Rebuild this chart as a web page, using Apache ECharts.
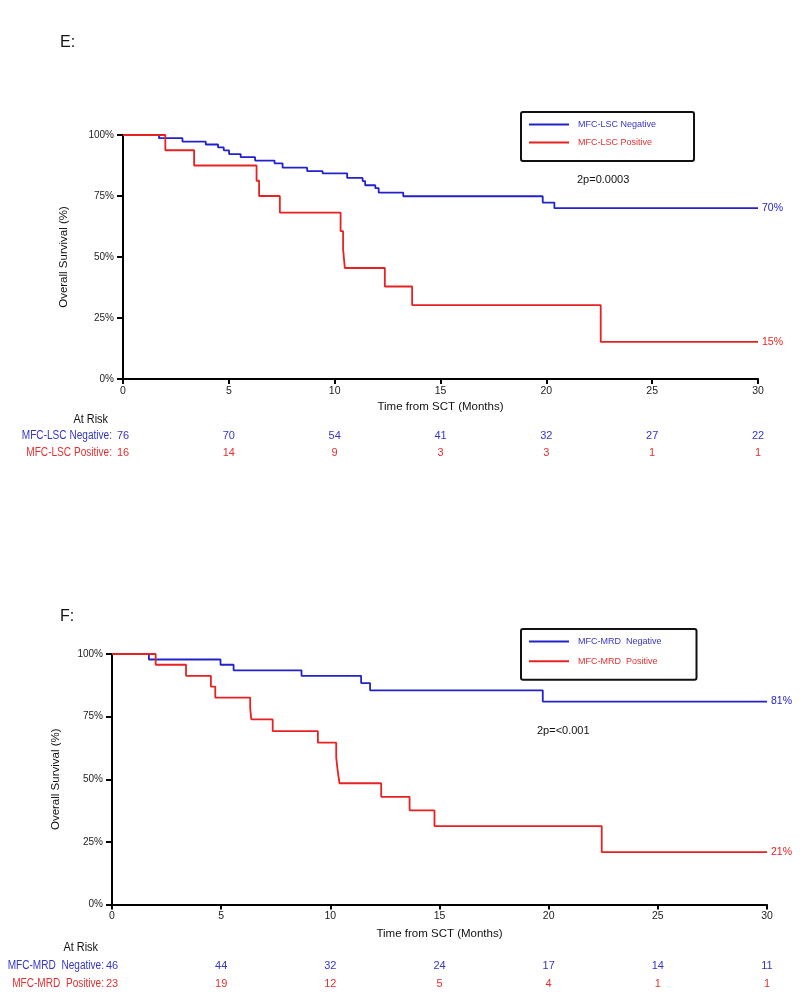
<!DOCTYPE html>
<html><head><meta charset="utf-8">
<script src="https://cdn.jsdelivr.net/npm/echarts@6/dist/echarts.min.js"></script>
<style>html,body{margin:0;padding:0;background:#fff}#c{width:800px;height:998px}</style>
</head><body><div id="c"></div>
<script>
// ---- Data ----
const xTicks = [0, 5, 10, 15, 20, 25, 30];

// Panel E: MFC-LSC
const lscNegTime = [0, 1.70, 2.81, 3.91, 4.49, 4.76, 5.01, 5.56, 6.24, 7.16, 7.54, 8.70, 9.43, 10.59, 11.32, 11.44, 11.92, 12.08, 13.24, 19.83, 20.38, 30];
const lscNegSurv = [100, 98.7, 97.3, 96.1, 94.9, 93.7, 92.2, 90.9, 89.5, 88.4, 86.6, 85.2, 84.3, 82.4, 81.1, 79.4, 78.2, 76.4, 74.9, 72.3, 70.0, 70.0];
const lscPosTime = [0, 2.00, 3.36, 6.31, 6.43, 7.41, 10.28, 10.40, 10.48, 12.37, 13.66, 22.57, 30];
const lscPosSurv = [100, 93.75, 87.5, 81.25, 75.0, 68.2, 60.6, 53.0, 45.5, 37.9, 30.3, 15.2, 15.2];
const lscNegRisk = [76, 70, 54, 41, 32, 27, 22];
const lscPosRisk = [16, 14, 9, 3, 3, 1, 1];

// Panel F: MFC-MRD
const mrdNegTime = [0, 1.69, 4.97, 5.57, 8.68, 11.41, 11.82, 19.73, 30];
const mrdNegSurv = [100, 97.8, 95.7, 93.5, 91.3, 88.4, 85.5, 81.0, 81.0];
const mrdPosTime = [0, 2.00, 3.39, 4.53, 4.73, 6.33, 6.38, 7.36, 9.43, 10.27, 10.33, 10.42, 12.33, 13.63, 14.77, 22.43, 30];
const mrdPosSurv = [100, 95.7, 91.3, 87.0, 82.6, 78.3, 73.9, 69.2, 64.6, 58.7, 53.8, 48.4, 43.0, 37.6, 31.3, 20.9, 20.9];
const mrdNegRisk = [46, 44, 32, 24, 17, 14, 11];
const mrdPosRisk = [23, 19, 12, 5, 4, 1, 1];

const lscNames = ['MFC-LSC Negative', 'MFC-LSC Positive'];
const mrdNames = ['MFC-MRD  Negative', 'MFC-MRD  Positive'];
const lscRowLabels = ['MFC-LSC Negative:', 'MFC-LSC Positive:'];
const mrdRowLabels = ['MFC-MRD  Negative:', 'MFC-MRD  Positive:'];
const pLSC = '2p=0.0003';
const pMRD = '2p=<0.001';

// ---- Styling ----
const BLUE = '#2222cc';
const RED = '#e62222';
const TBLUE = '#3535c8';
const TRED = '#e43030';
const SANS = "'Liberation Sans',Arial,sans-serif";

const zip = (t, s) => t.map((v, i) => [v, s[i]]);

function mainX(gi, nameGap, margin) {
  return {
    gridIndex: gi, type: 'value', min: 0, max: 30, interval: 5,
    name: 'Time from SCT (Months)', nameLocation: 'middle', nameGap: nameGap,
    nameTextStyle: { fontFamily: SANS, fontSize: 11.5, color: '#111' },
    axisLine: { show: true, onZero: false, lineStyle: { color: '#000', width: 2 } },
    axisTick: { show: true, length: 5, lineStyle: { color: '#000', width: 2 } },
    axisLabel: { margin: margin, fontFamily: SANS, fontSize: 10.5, color: '#222',
      formatter: v => String(xTicks[xTicks.indexOf(v)]) },
    splitLine: { show: false }
  };
}
function riskX(gi, offset, arr, color) {
  return {
    gridIndex: gi, type: 'value', min: 0, max: 30, interval: 5, position: 'bottom', offset: offset,
    axisLine: { show: false }, axisTick: { show: false }, splitLine: { show: false },
    axisLabel: { margin: 0, fontFamily: SANS, fontSize: 11, color: color,
      showMinLabel: true, showMaxLabel: true,
      formatter: v => String(arr[Math.round(v / 5)]) }
  };
}
function mainY(gi, nameGap) {
  return {
    gridIndex: gi, type: 'value', min: 0, max: 100, interval: 25,
    name: 'Overall Survival (%)', nameLocation: 'middle', nameGap: nameGap,
    nameTextStyle: { fontFamily: SANS, fontSize: 11.5, color: '#111' },
    axisLine: { show: true, lineStyle: { color: '#000', width: 2 } },
    axisTick: { show: true, length: 6, lineStyle: { color: '#000', width: 2 } },
    axisLabel: { margin: 9, fontFamily: SANS, fontSize: 10, color: '#222', formatter: '{value}%' },
    splitLine: { show: false }
  };
}
function km(name, t, s, color, xi, yi) {
  return {
    name: name, type: 'line', step: 'end', xAxisIndex: xi, yAxisIndex: yi,
    data: zip(t, s), symbol: 'none', silent: true,
    lineStyle: { color: color, width: 1.8 }, itemStyle: { color: color },
    endLabel: { show: true, distance: 4, color: color, fontFamily: SANS, fontSize: 10.5,
      formatter: p => Math.round(p.value[1]) + '%' }
  };
}
function legend(top, names, gap, padRight) {
  return {
    left: 521, top: top, orient: 'vertical', selectedMode: false,
    icon: 'rect', itemWidth: 40, itemHeight: 2, itemGap: gap,
    padding: [7, padRight, 13, 8],
    borderColor: '#111', borderWidth: 2, borderRadius: 2,
    data: [
      { name: names[0], itemStyle: { color: BLUE }, textStyle: { color: TBLUE } },
      { name: names[1], itemStyle: { color: RED }, textStyle: { color: TRED } }
    ],
    textStyle: { fontFamily: SANS, fontSize: 9, padding: [0, 0, 0, 4], lineHeight: 11 }
  };
}
function txt(left, top, text, opt) {
  return { type: 'text', left: left, top: top,
    style: Object.assign({ text: text, fontFamily: SANS, fontSize: 11.5, fill: '#111' }, opt || {}) };
}
// right-aligned text, horizontally condensed to mimic the narrow typeface of the original
function rtxt(rightEdge, top, text, opt) {
  return { type: 'text', x: rightEdge, y: top, scaleX: 0.84,
    style: Object.assign({ text: text, fontFamily: SANS, fontSize: 12, fill: '#111', align: 'right', verticalAlign: 'top' }, opt || {}) };
}

const chart = echarts.init(document.getElementById('c'), null, { renderer: 'canvas' });
chart.setOption({
  animation: false,
  backgroundColor: '#fff',
  grid: [
    { left: 123, right: 42, top: 135, height: 244 },
    { left: 112, right: 33, top: 654, height: 250.5 }
  ],
  xAxis: [
    mainX(0, 22, 7),
    riskX(0, 51, lscNegRisk, TBLUE),
    riskX(0, 68, lscPosRisk, TRED),
    mainX(1, 23, 6),
    riskX(1, 56, mrdNegRisk, TBLUE),
    riskX(1, 74, mrdPosRisk, TRED)
  ],
  yAxis: [mainY(0, 53), mainY(1, 50)],
  legend: [legend(112, lscNames, 7, 38), legend(629, mrdNames, 8.7, 35)],
  series: [
    km(lscNames[0], lscNegTime, lscNegSurv, BLUE, 0, 0),
    km(lscNames[1], lscPosTime, lscPosSurv, RED, 0, 0),
    km(mrdNames[0], mrdNegTime, mrdNegSurv, BLUE, 3, 1),
    km(mrdNames[1], mrdPosTime, mrdPosSurv, RED, 3, 1)
  ],
  graphic: [
    txt(60, 35, 'E:', { fontSize: 16 }),
    txt(60, 609, 'F:', { fontSize: 16 }),
    txt(577, 174, pLSC, { fontSize: 11 }),
    txt(537, 725, pMRD, { fontSize: 11 }),
    rtxt(108, 413, 'At Risk', { fontSize: 13 }),
    rtxt(112, 430, lscRowLabels[0], { fill: TBLUE }),
    rtxt(112, 447, lscRowLabels[1], { fill: TRED }),
    rtxt(98, 941, 'At Risk', { fontSize: 13 }),
    rtxt(104, 960, mrdRowLabels[0], { fill: TBLUE }),
    rtxt(104, 978, mrdRowLabels[1], { fill: TRED })
  ]
});
</script>
</body></html>
